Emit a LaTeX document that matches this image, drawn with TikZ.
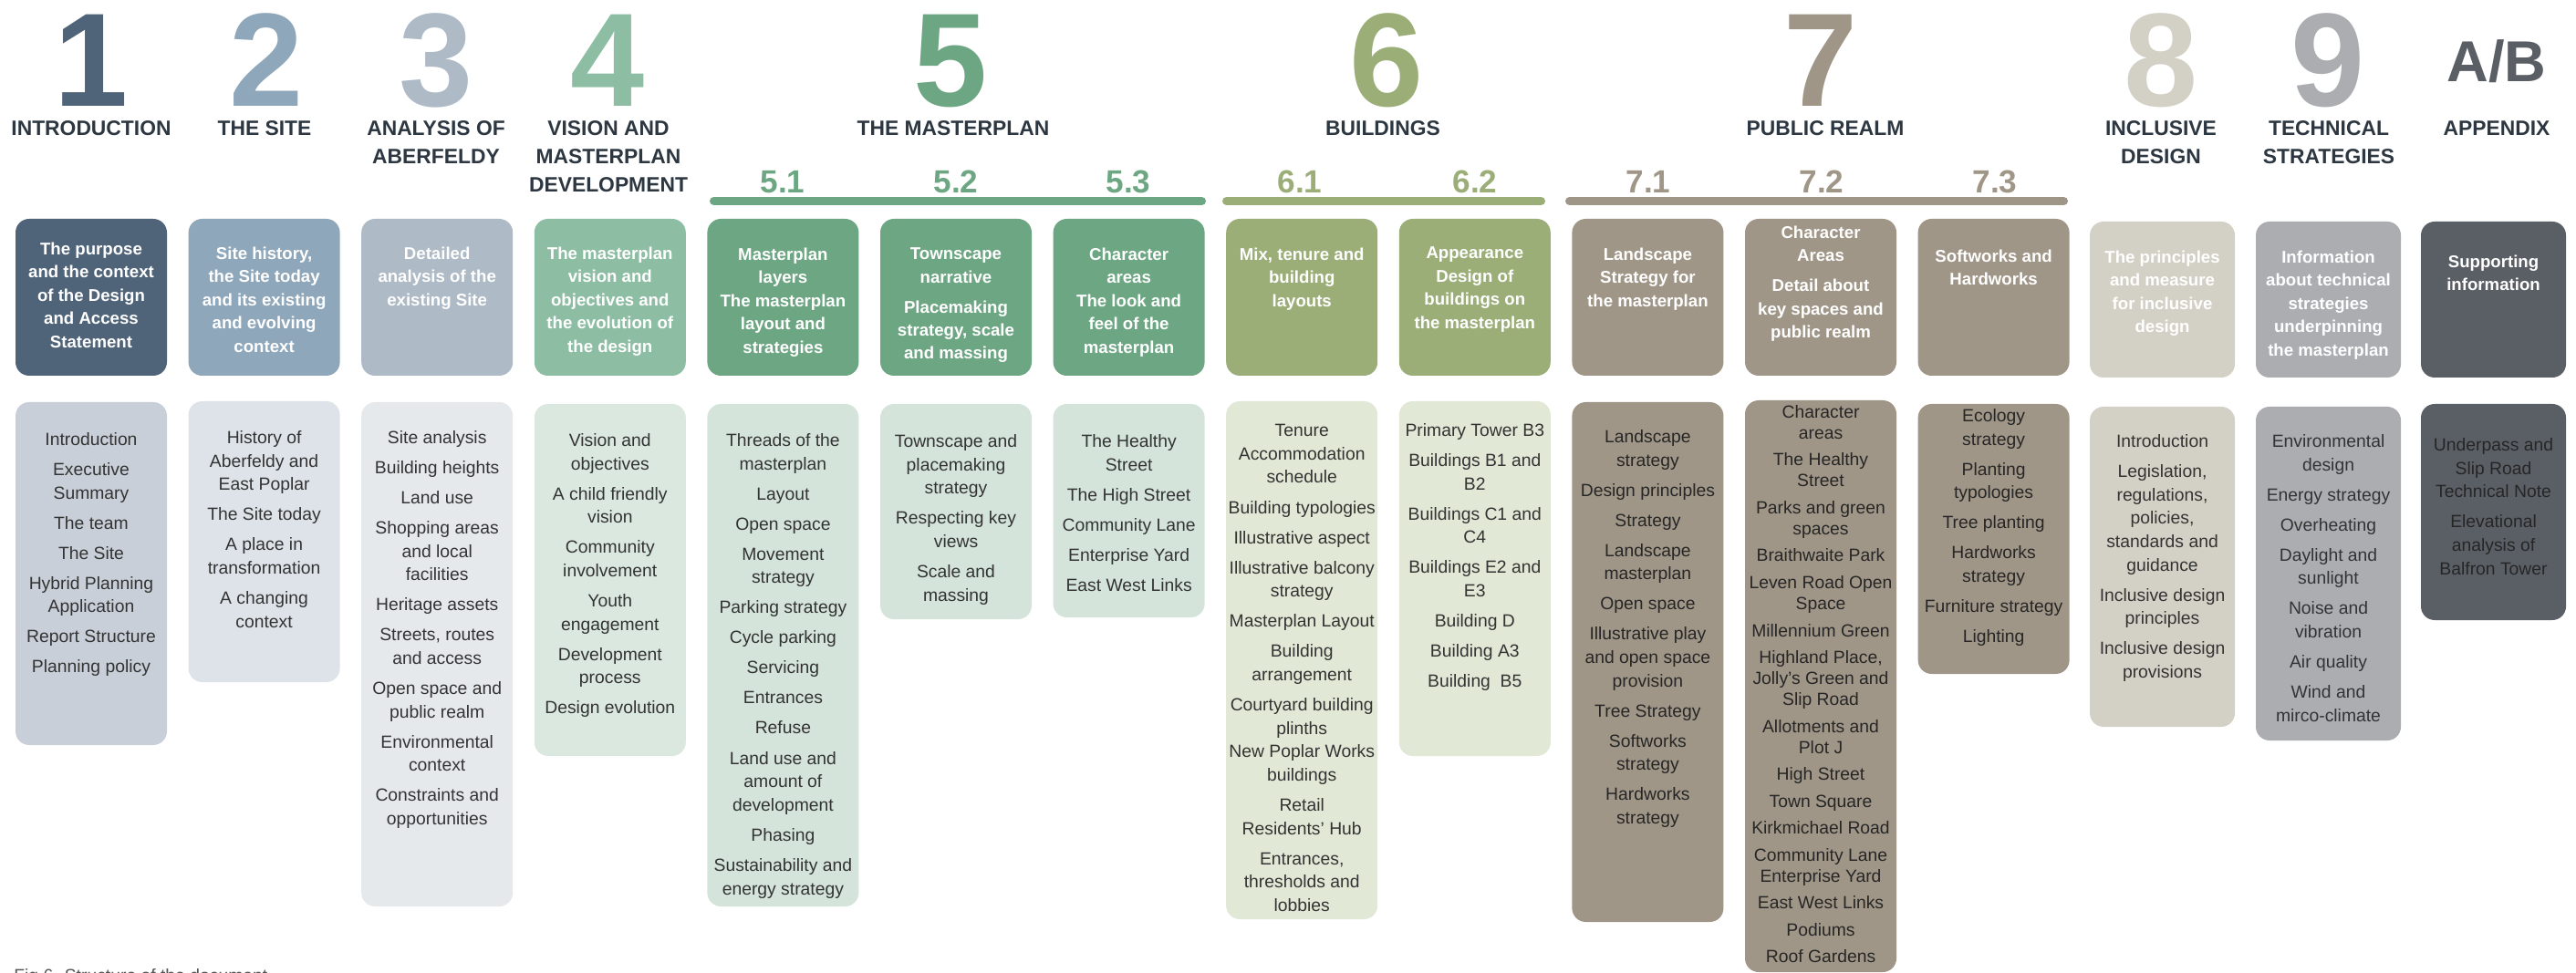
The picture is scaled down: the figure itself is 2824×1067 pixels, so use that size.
\documentclass[tikz,border=0pt]{standalone}
\usepackage{fontspec}
\setmainfont{Liberation Sans}
\definecolor{intro}{HTML}{4F6379}
\definecolor{site}{HTML}{8FA7BA}
\definecolor{analysis}{HTML}{AEBAC6}
\definecolor{vision}{HTML}{8DBDA3}
\definecolor{masterplan}{HTML}{6DA683}
\definecolor{buildings}{HTML}{9BAE77}
\definecolor{realm}{HTML}{A09687}
\definecolor{inclusive}{HTML}{D3D0C5}
\definecolor{technical}{HTML}{ABADB1}
\definecolor{appendix}{HTML}{5A5E65}
\definecolor{introlt}{HTML}{C9CFD8}
\definecolor{sitelt}{HTML}{DDE3E9}
\definecolor{analysislt}{HTML}{E6E9EC}
\definecolor{visionlt}{HTML}{DAE8DF}
\definecolor{masterplanlt}{HTML}{D4E4DA}
\definecolor{buildingslt}{HTML}{E1E8D6}
\definecolor{ink}{HTML}{2D3741}
\definecolor{bodyink}{HTML}{333333}
\definecolor{captiongray}{HTML}{555555}
\newlength\listgap
\setlength\listgap{4.2pt}
\newcommand\nxt{\\[\listgap]}

\begin{document}
\begin{tikzpicture}[x=0.2mm,y=-0.2mm,
  chapnum/.style={anchor=base,inner sep=0pt,font=\fontsize{83}{83}\selectfont\bfseries},
  chaptitle/.style={anchor=north,inner sep=0pt,align=center,text=ink,font=\fontsize{13}{17.6}\selectfont\bfseries},
  secnum/.style={anchor=base,inner sep=0pt,font=\fontsize{20}{20}\selectfont\bfseries},
  summary/.style={anchor=north,inner sep=0pt,align=center,text=white,font=\fontsize{10.6}{14.5}\selectfont\bfseries},
  contents/.style={anchor=north,inner sep=0pt,align=center,text=bodyink,font=\fontsize{11}{14.6}\selectfont},
  card/.style={rounded corners=3mm},
  bar/.style={line width=1.8mm,line cap=round}]
  \useasboundingbox (0,0) rectangle (2824,1067);

  % chapter cards
  \foreach \x/\c in {17/intro,206.6/site,396.2/analysis,585.8/vision,775.4/masterplan,965/masterplan,1154.6/masterplan,1344.2/buildings,1533.8/buildings,1723.4/realm,1913/realm,2102.6/realm}
    \fill[\c,card] (\x,240) rectangle ++(166,172);
  \foreach \x/\c in {2291/inclusive,2473/technical,2654/appendix}
    \fill[\c,card] (\x,243) rectangle ++(159,171);

  % contents cards
  \foreach \x/\w/\ya/\yb/\c in {17/166/441/817/introlt,206.6/166/440/748/sitelt,396.2/166/441/994/analysislt,585.8/166/443/829/visionlt,775.4/166/443/994/masterplanlt,965/166/443/679/masterplanlt,1154.6/166/443/677/masterplanlt,1344.2/166/440/1008/buildingslt,1533.8/166/440/829/buildingslt,1723.4/166/441/1011/realm,1913/166/439/1066/realm,2102.6/166/443/739/realm,2291/159/446/797/inclusive,2473/159/446/812/technical,2654/159/443/680/appendix}
    \fill[\c,card] (\x,\ya) rectangle (\x+\w,\yb);

  \draw[masterplan,bar] (782.5,220.5) -- (1317.5,220.5);
  \draw[buildings,bar] (1344.5,220.5) -- (1689.5,220.5);
  \draw[realm,bar] (1720.5,220.5) -- (2262.5,220.5);

  \node[chapnum,text=intro] (n1) at (100,117) {1};
  \node[chapnum,text=site] (n2) at (292,117) {2};
  \node[chapnum,text=analysis] (n3) at (478,117) {3};
  \node[chapnum,text=vision] (n4) at (666,117) {4};
  \node[chapnum,text=masterplan] (n5) at (1042,117) {5};
  \node[chapnum,text=buildings] (n6) at (1520,117) {6};
  \node[chapnum,text=realm] (n7) at (1996,117) {7};
  \node[chapnum,text=inclusive] (n8) at (2369,117) {8};
  \node[chapnum,text=technical] (n9) at (2552,117) {9};
  \node[chapnum,text=appendix,font=\fontsize{36}{36}\selectfont\bfseries] (nab) at (2737,90) {A/B};

  \node[chaptitle] (h1) at (100,132) {INTRODUCTION};
  \node[chaptitle] (h2) at (290,132) {THE SITE};
  \node[chaptitle] (h3) at (478,132) {ANALYSIS OF\\ABERFELDY};
  \node[chaptitle] (h4) at (667,132) {VISION AND\\MASTERPLAN\\DEVELOPMENT};
  \node[chaptitle] (h5) at (1045,132) {THE MASTERPLAN};
  \node[chaptitle] (h6) at (1516,132) {BUILDINGS};
  \node[chaptitle] (h7) at (2001,132) {PUBLIC REALM};
  \node[chaptitle] (h8) at (2369,132) {INCLUSIVE\\DESIGN};
  \node[chaptitle] (h9) at (2553,132) {TECHNICAL\\STRATEGIES};
  \node[chaptitle] (hab) at (2737,132) {APPENDIX};

  \node[secnum,text=masterplan] (s51) at (858,212) {5.1};
  \node[secnum,text=masterplan] (s52) at (1048,212) {5.2};
  \node[secnum,text=masterplan] (s53) at (1237,212) {5.3};
  \node[secnum,text=buildings] (s61) at (1425,212) {6.1};
  \node[secnum,text=buildings] (s62) at (1617,212) {6.2};
  \node[secnum,text=realm] (s71) at (1807,212) {7.1};
  \node[secnum,text=realm] (s72) at (1997,212) {7.2};
  \node[secnum,text=realm] (s73) at (2187,212) {7.3};

  \node[summary] (t1) at (100,265.5) {The purpose\\and the context\\of the Design\\and Access\\Statement};
  \node[summary] (t2) at (289.6,270.5) {Site history,\\the Site today\\and its existing\\and evolving\\context};
  \node[summary] (t3) at (479.2,270.5) {Detailed\\analysis of the\\existing Site};
  \node[summary] (t4) at (668.8,270.5) {The masterplan\\vision and\\objectives and\\the evolution of\\the design};
  \node[summary] (t51) at (858.4,271.5) {Masterplan\\layers\\The masterplan\\layout and\\strategies};
  \node[summary] (t52) at (1048,271.5) {Townscape\\narrative\nxt Placemaking\\strategy, scale\\and massing};
  \node[summary] (t53) at (1237.6,271.5) {Character\\areas\\The look and\\feel of the\\masterplan};
  \node[summary] (t61) at (1427.2,271.5) {Mix, tenure and\\building\\layouts};
  \node[summary] (t62) at (1616.8,270.5) {Appearance\\Design of\\buildings on\\the masterplan};
  \node[summary] (t71) at (1806.4,271.5) {Landscape\\Strategy for\\the masterplan};
  \node[summary] (t72) at (1996,247.5) {Character\\Areas\nxt Detail about\\key spaces and\\public realm};
  \node[summary] (t73) at (2185.6,273.5) {Softworks and\\Hardworks};
  \node[summary] (t8) at (2370.5,274.5) {The principles\\and measure\\for inclusive\\design};
  \node[summary] (t9) at (2552.5,274.5) {Information\\about technical\\strategies\\underpinning\\the masterplan};
  \node[summary] (tab) at (2733.5,279.5) {Supporting\\information};

  \node[contents] (c1) at (100,474) {Introduction\nxt Executive\\Summary\nxt The team\nxt The Site\nxt Hybrid Planning\\Application\nxt Report Structure\nxt Planning policy};
  \node[contents] (c2) at (289.6,472) {History of\\Aberfeldy and\\East Poplar\nxt The Site today\nxt A place in\\transformation\nxt A changing\\context};
  \node[contents] (c3) at (479.2,472) {Site analysis\nxt Building heights\nxt Land use\nxt Shopping areas\\and local\\facilities\nxt Heritage assets\nxt Streets, routes\\and access\nxt Open space and\\public realm\nxt Environmental\\context\nxt Constraints and\\opportunities};
  \node[contents] (c4) at (668.8,475) {Vision and\\objectives\nxt A child friendly\\vision\nxt Community\\involvement\nxt Youth\\engagement\nxt Development\\process\nxt Design evolution};
  \node[contents] (c51) at (858.4,475) {Threads of the\\masterplan\nxt Layout\nxt Open space\nxt Movement\\strategy\nxt Parking strategy\nxt Cycle parking\nxt Servicing\nxt Entrances\nxt Refuse\nxt Land use and\\amount of\\development\nxt Phasing\nxt Sustainability and\\energy strategy};
  \node[contents] (c52) at (1048,476) {Townscape and\\placemaking\\strategy\nxt Respecting key\\views\nxt Scale and\\massing};
  \node[contents] (c53) at (1237.6,476) {The Healthy\\Street\nxt The High Street\nxt Community Lane\nxt Enterprise Yard\nxt East West Links};
  \node[contents] (c61) at (1427.2,465) {Tenure\\Accommodation\\schedule\nxt Building typologies\nxt Illustrative aspect\nxt Illustrative balcony\\strategy\nxt Masterplan Layout\nxt Building\\arrangement\nxt Courtyard building\\plinths\\New Poplar Works\\buildings\nxt Retail\\Residents' Hub\nxt Entrances,\\thresholds and\\lobbies};
  \node[contents] (c62) at (1616.8,464) {Primary Tower B3\nxt Buildings B1 and\\B2\nxt Buildings C1 and\\C4\nxt Buildings E2 and\\E3\nxt Building D\nxt Building A3\nxt Building\ \ B5};
  \node[contents,text=black!85] (c71) at (1806.4,471) {Landscape\\strategy\nxt Design principles\nxt Strategy\nxt Landscape\\masterplan\nxt Open space\nxt Illustrative play\\and open space\\provision\nxt Tree Strategy\nxt Softworks\\strategy\nxt Hardworks\\strategy};
  \node[contents,text=black!85,font=\fontsize{11}{13.1}\selectfont\setlength\listgap{3.7pt}] (c72) at (1996,444) {Character\\areas\nxt The Healthy\\Street\nxt Parks and green\\spaces\nxt Braithwaite Park\nxt Leven Road Open\\Space\nxt Millennium Green\nxt Highland Place,\\Jolly's Green and\\Slip Road\nxt Allotments and\\Plot J\nxt High Street\nxt Town Square\nxt Kirkmichael Road\nxt Community Lane\\Enterprise Yard\nxt East West Links\nxt Podiums\nxt Roof Gardens};
  \node[contents,text=black!85] (c73) at (2185.6,448) {Ecology\\strategy\nxt Planting\\typologies\nxt Tree planting\nxt Hardworks\\strategy\nxt Furniture strategy\nxt Lighting};
  \node[contents] (c8) at (2370.5,476) {Introduction\nxt Legislation,\\regulations,\\policies,\\standards and\\guidance\nxt Inclusive design\\principles\nxt Inclusive design\\provisions};
  \node[contents] (c9) at (2552.5,476) {Environmental\\design\nxt Energy strategy\nxt Overheating\nxt Daylight and\\sunlight\nxt Noise and\\vibration\nxt Air quality\nxt Wind and\\mirco-climate};
  \node[contents,text=black!85] (cab) at (2733.5,480) {Underpass and\\Slip Road\\Technical Note\nxt Elevational\\analysis of\\Balfron Tower};

  \node[anchor=north west,inner sep=0pt,text=captiongray,font=\fontsize{11}{13}\selectfont] (caption) at (15,1062) {Fig 6. Structure of the document};
\end{tikzpicture}
\end{document}
